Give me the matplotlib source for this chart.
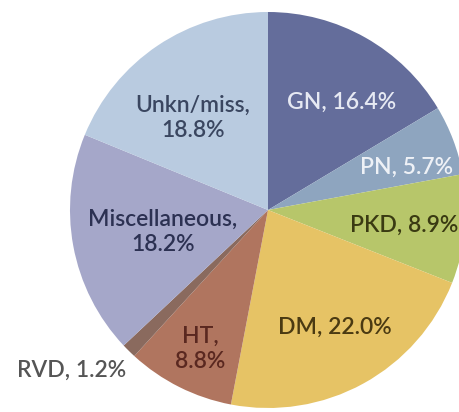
import matplotlib
matplotlib.use("Agg")
import matplotlib.pyplot as plt

categories = ["GN", "PN", "PKD", "DM", "HT", "RVD", "Miscellaneous", "Unkn/miss"]
values = [16.4, 5.7, 8.9, 22.0, 8.8, 1.2, 18.2, 18.8]
label_texts = ["GN, 16.4%", "PN, 5.7%", "PKD, 8.9%", "DM, 22.0%", "HT,\n8.8%",
               "RVD, 1.2%", "Miscellaneous,\n18.2%", "Unkn/miss,\n18.8%"]

colors = ["#646d9b", "#8ea5bf", "#b7c66a", "#e6c365", "#b0755f", "#8a6a5e", "#a5a7c9", "#b9cbe0"]
text_colors = ["#e6e9f3", "#eef1f6", "#3a3a12", "#4a3a12", "#5a2820", "#555555", "#2c3152", "#3a4660"]
label_pos = [(0.374, 0.545), (0.70, 0.217), (0.687, -0.076), (0.338, -0.591), (-0.343, -0.70),
             (-0.99, -0.808), (-0.53, -0.111), (-0.38, 0.465)]

fig = plt.figure(figsize=(4.6, 4.12), dpi=100)
ax = fig.add_axes([0, 0, 1, 1])
ax.pie(values, colors=colors, startangle=90, counterclock=False, radius=1.0,
       wedgeprops=dict(linewidth=0))
for txt, (x, y), c in zip(label_texts, label_pos, text_colors):
    ax.text(x, y, txt, ha="center", va="center", color=c, fontsize=16.5,
            family="Lato", weight="semibold", linespacing=1.25)
ax.set_xlim(-1.3535, 0.9697)
ax.set_ylim(-1.0202, 1.0606)
ax.set_aspect("equal")
ax.axis("off")
fig.savefig("out.png", dpi=100)
